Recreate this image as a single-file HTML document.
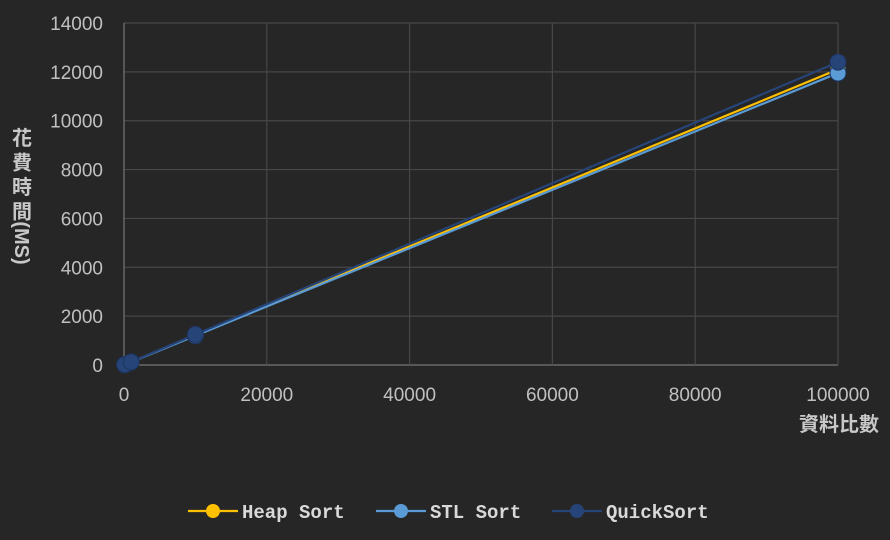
<!DOCTYPE html>
<html><head><meta charset="utf-8"><style>
body{margin:0;background:#262626;}
svg text{font-family:"Liberation Sans","Noto Sans CJK TC",sans-serif;}
svg text.mono{font-family:"Liberation Mono",monospace;}
</style></head><body>
<svg id="c" width="890" height="535" xmlns="http://www.w3.org/2000/svg">
<rect width="890" height="535" fill="#262626"/>
</svg>
<script>
const xs=[100,1000,10000,100000];
const heap=[12,121,1230,12100];
const stl=[11,118,1200,11950];
const quick=[13,125,1250,12400];
const xTicks=[0,20000,40000,60000,80000,100000];
const yTicks=[0,2000,4000,6000,8000,10000,12000,14000];
const svg=document.getElementById('c');
const NS='http://www.w3.org/2000/svg';
const X=v=>124+v/100000*714, Y=v=>365-v/14000*342;
function mk(t,a,p){const e=document.createElementNS(NS,t);for(const k in a)e.setAttribute(k,a[k]);(p||svg).appendChild(e);return e;}
yTicks.forEach(v=>{
 const l=mk('line',{x1:124,x2:838,y1:Y(v),y2:Y(v),stroke:v?'#474747':'#777','stroke-width':1.2});
 
 
 const t=mk('text',{x:103,y:Y(v)+7,'text-anchor':'end',fill:'#c0c0c0','font-size':19});
 t.textContent=v;
 
 
});
xTicks.forEach(v=>{
 const l=mk('line',{x1:X(v),x2:X(v),y1:Y(14000),y2:365,stroke:v?'#474747':'#777','stroke-width':1.2});
 
 
 const t=mk('text',{x:X(v),y:401,'text-anchor':'middle',fill:'#c0c0c0','font-size':19});
 t.textContent=v;
 
 
});
const series=[['heap',heap,'#ffc000'],['stl',stl,'#5b9bd5'],['quick',quick,'#264478']];
series.forEach(([n,d,c])=>{
 const p=mk('polyline',{points:xs.map((x,i)=>X(x)+','+Y(d[i])).join(' '),fill:'none',stroke:c,'stroke-width':2.2});
 
 
});
series.forEach(([n,d,c])=>{
 xs.forEach((x,i)=>{
  const m=mk('circle',{cx:X(x),cy:Y(d[i]),r:8,fill:c,stroke:'#1e3560','stroke-width':1});
  
  
 });
});
const yt=mk('text',{x:0,y:0,fill:'#c8c8c8','font-size':20,'font-weight':'bold',transform:'translate(22,125)'});


['花','費','時','間'].forEach((ch,i)=>{const s=mk('tspan',{x:0,y:i*24.5+20,'text-anchor':'middle'},yt);s.textContent=ch;});
const yt2=mk('text',{x:0,y:0,fill:'#c8c8c8','font-size':20,'font-weight':'bold','text-anchor':'middle',transform:'translate(15,243) rotate(90)'});
yt2.textContent='(MS)';


const xt=mk('text',{x:879,y:431,'text-anchor':'end',fill:'#c8c8c8','font-size':20,'font-weight':'bold'});
xt.textContent='資料比數';


const leg=[['Heap Sort','#ffc000',188],['STL Sort','#5b9bd5',376],['QuickSort','#264478',552]];
leg.forEach(([t,c,x])=>{
 const g=mk('g',{});
 
 
 mk('line',{x1:x,x2:x+50,y1:511,y2:511,stroke:c,'stroke-width':2.2},g);
 mk('circle',{cx:x+25,cy:511,r:7,fill:c},g);
 const tx=mk('text',{x:x+54,y:518,fill:'#d9d9d9','font-size':19,'font-weight':'bold','class':'mono'},g);
 tx.textContent=t;
});
</script>
</body></html>
